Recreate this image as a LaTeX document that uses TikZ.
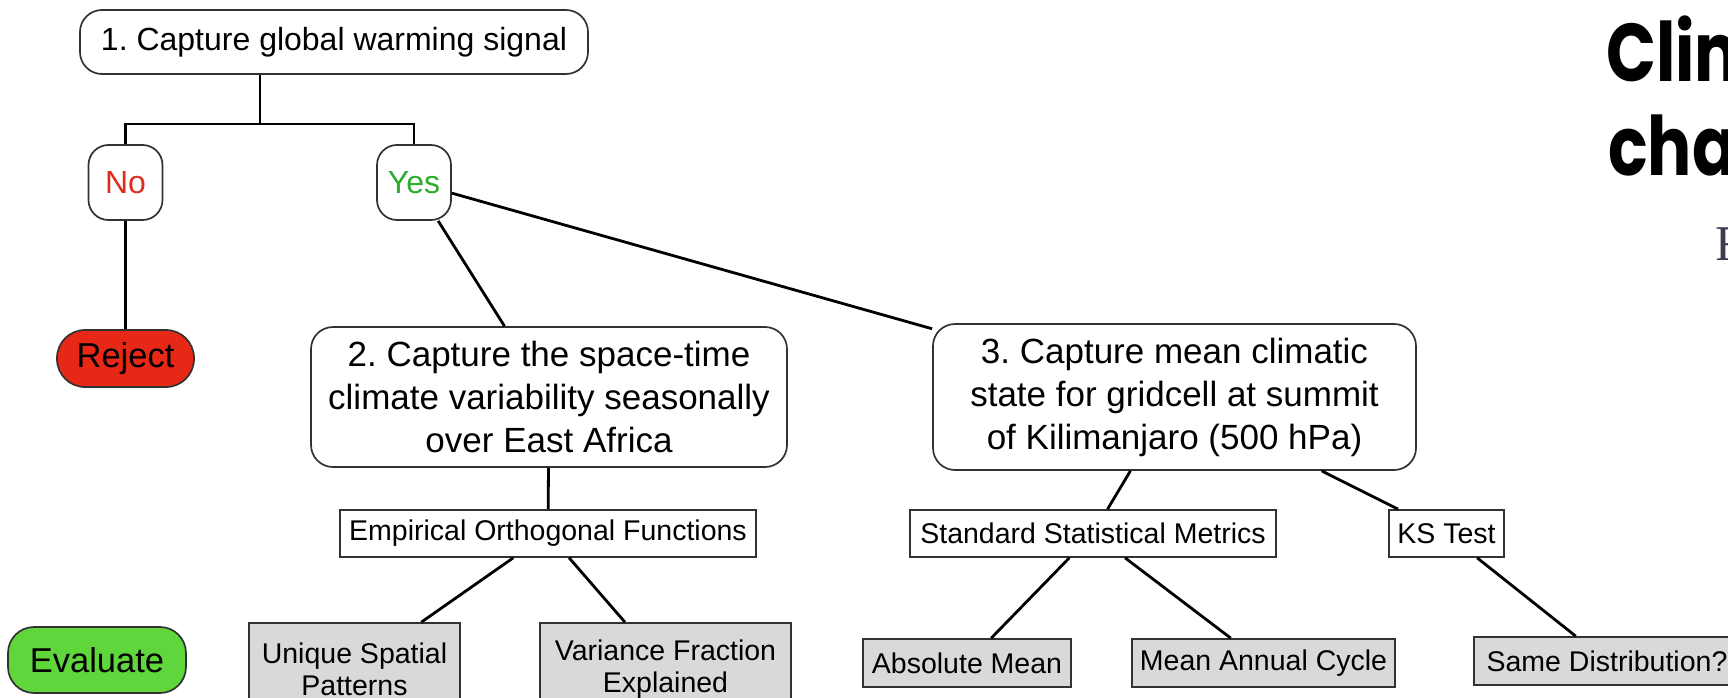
\documentclass[tikz,border=0pt]{standalone}
\usepackage{fontspec}
\setmainfont{Liberation Sans}
\newfontfamily\headfont{Poppins}[FakeStretch=0.8]
\newfontfamily\bylinefont{Liberation Serif}
\usepackage{tikz}
\definecolor{nored}{RGB}{220,45,30}
\definecolor{yesgreen}{RGB}{45,172,45}
\definecolor{rejectred}{RGB}{232,40,22}
\definecolor{evalgreen}{RGB}{94,214,60}
\definecolor{leafgray}{RGB}{217,217,217}
\definecolor{boxline}{RGB}{50,50,50}
\definecolor{bylinegray}{RGB}{58,58,80}
\frenchspacing

\begin{document}
\begin{tikzpicture}[x=1pt,y=-1pt,
    stepbox/.style={draw=boxline,line width=1.7pt,fill=white,rounded corners=22pt,
        align=center,inner sep=0pt,font=\fontsize{35}{43}\selectfont},
    answer/.style={draw=boxline,line width=1.7pt,fill=white,rounded corners=20pt,
        minimum width=74pt,minimum height=75pt,inner sep=0pt,font=\fontsize{32}{38}\selectfont},
    verdict/.style={draw=boxline,line width=1.7pt,inner sep=0pt,font=\fontsize{34.5}{40}\selectfont},
    method/.style={draw=boxline,line width=1.7pt,fill=white,minimum height=47pt,
        inner sep=0pt,font=\fontsize{28.5}{32}\selectfont},
    leaf/.style={method,fill=leafgray,align=center},
    link/.style={line width=2.8pt}]
    \useasboundingbox (0,0) rectangle (1728,698);
    \clip (0,0) rectangle (1728,698);

    % Decision steps
    \node[stepbox,minimum width=508pt,minimum height=64pt,font=\fontsize{32}{38}\selectfont]
        (capture) at (334,42) {1. Capture global warming signal};
    \node[answer,text=nored] (no) at (125.5,182.5) {No};
    \node[answer,text=yesgreen] (yes) at (414,182.5) {Yes};
    \node[stepbox,minimum width=476pt,minimum height=140pt] (spacetime) at (549,397)
        {2. Capture the space-time\\climate variability seasonally\\over East Africa};
    \node[stepbox,minimum width=483pt,minimum height=146pt] (summit) at (1174.5,397)
        {3. Capture mean climatic\\state for gridcell at summit\\of Kilimanjaro (500 hPa)};

    % Outcomes
    \node[verdict,fill=rejectred,rounded corners=28pt,minimum width=137pt,minimum height=57pt]
        (reject) at (125.5,358.5) {Reject};
    \node[verdict,fill=evalgreen,rounded corners=26pt,minimum width=178pt,minimum height=66pt]
        (evaluate) at (97,660) {Evaluate};

    % Methods
    \foreach \nm/\x/\w/\txt in {eof/548/416/Empirical Orthogonal Functions,
                                ssm/1093/366/Standard Statistical Metrics,
                                ks/1446.5/115/KS Test}
        \node[method,minimum width=\w pt] (\nm) at (\x,533.5) {\txt};

    % Evaluated quantities
    \foreach \nm/\x/\y/\w/\h/\txt in {unique/354.5/669/211/92/Unique Spatial\\Patterns,
                                      variance/665.5/669/251/92/Variance Fraction\\Explained,
                                      absolute/967/663/208/48/Absolute Mean,
                                      annual/1263.5/663/263/48/Mean Annual Cycle,
                                      same/1607/661/266/48/Same Distribution?}
        \node[leaf,minimum width=\w pt,minimum height=\h pt] (\nm) at (\x,\y) {\txt};

    % Connectors
    \coordinate (fork) at (260,124);
    \draw[link] (capture.south -| fork) -- (fork);
    \draw[link] (no) |- (fork) -| (yes);
    \foreach \a/\b in {no/reject,yes/spacetime,yes/summit,spacetime/eof,
                       eof/unique,eof/variance,summit/ssm,summit/ks,
                       ssm/absolute,ssm/annual,ks/same}
        \draw[link] (\a) -- (\b);

    % Page heading, cut by the frame
    \node[anchor=base west,inner sep=0pt,font=\headfont\bfseries\fontsize{82}{93}\selectfont]
        (headA) at (1606,82) {Clim};
    \node[anchor=base west,inner sep=0pt,font=\headfont\bfseries\fontsize{82}{93}\selectfont]
        (headB) at (1608,175) {cha};
    \node[anchor=base west,inner sep=0pt,text=bylinegray,font=\bylinefont\fontsize{50}{60}\selectfont]
        (byline) at (1715,260) {F};
\end{tikzpicture}
\end{document}
